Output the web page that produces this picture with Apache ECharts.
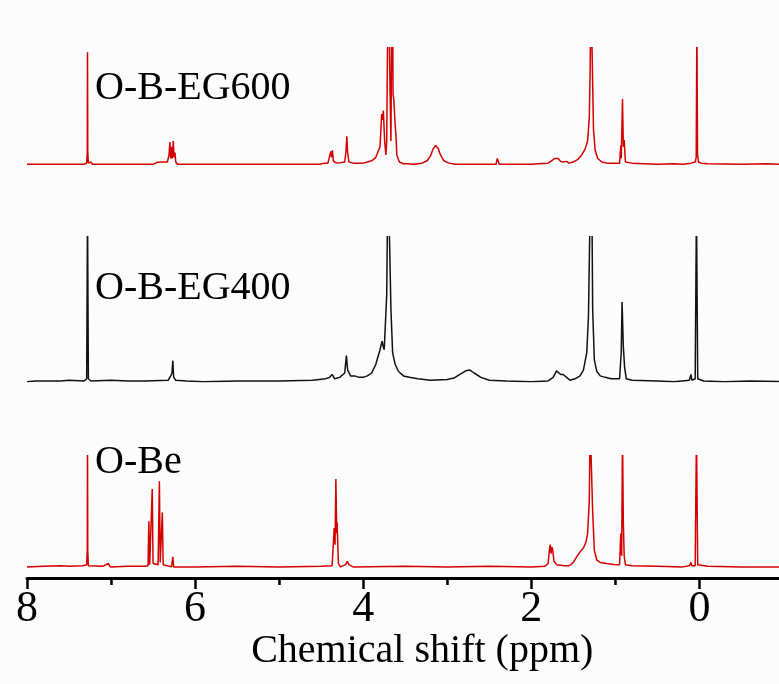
<!DOCTYPE html>
<html lang="en">
<head>
    <meta charset="UTF-8">
    <title>1H NMR</title>
    <script src="https://cdn.jsdelivr.net/npm/echarts@6/dist/echarts.min.js"></script>
    <style>
        body { margin: 0; background: #fcfcfc; }
    </style>
</head>
<body>
    <div id="main" style="width: 779px;height:684px;"></div>
    <script type="text/javascript">

        // sample names, top to bottom
        const sampleNames = ['O-B-EG600', 'O-B-EG400', 'O-Be'];

        // x-axis ticks (ppm)
        const ppmMin = -2;
        const ppmMax = 8;
        const ppmStep = 2;

        // traces: [ppm, relative intensity]
        const specEG600 = [
            [8.00, 0], [7.82, 0], [7.80, 0.012], [7.78, 0], [7.32, 0], [7.29, 0.01], [7.283, 0.1], [7.28, 0.96],
            [7.277, 0.1], [7.27, 0.01], [7.24, 0.02], [7.22, 0], [6.50, 0], [6.46, 0.015], [6.44, 0.01], [6.40, 0.02],
            [6.38, 0.01], [6.33, 0.02], [6.31, 0.08], [6.30, 0.19], [6.29, 0.05], [6.28, 0.15], [6.27, 0.05],
            [6.26, 0.2], [6.25, 0.06], [6.24, 0.10], [6.23, 0.02], [6.21, 0], [5.60, 0], [5.59, 0.01], [5.58, 0],
            [4.52, 0], [4.46, 0.01], [4.42, 0.01], [4.40, 0.02], [4.385, 0.11], [4.375, 0.06], [4.365, 0.12],
            [4.355, 0.03], [4.33, 0.015], [4.30, 0.01], [4.22, 0.02], [4.205, 0.11], [4.195, 0.24], [4.185, 0.10],
            [4.17, 0.02], [4.12, 0.01], [4.00, 0.01], [3.95, 0.02], [3.90, 0.03], [3.85, 0.06], [3.80, 0.15],
            [3.78, 0.43], [3.77, 0.38], [3.76, 0.46], [3.745, 0.2], [3.73, 0.08], [3.72, 0.2], [3.705, 1.5],
            [3.695, 1.4], [3.68, 0.6], [3.67, 0.2], [3.66, 1.3], [3.65, 1.4], [3.645, 0.6], [3.635, 0.55],
            [3.62, 0.34], [3.61, 0.25], [3.60, 0.08], [3.57, 0.02], [3.52, 0.005], [3.50, 0.015], [3.48, 0.005],
            [3.40, 0], [3.30, 0.01], [3.24, 0.03], [3.20, 0.07], [3.17, 0.13], [3.14, 0.16], [3.11, 0.14],
            [3.08, 0.08], [3.04, 0.03], [2.98, 0.01], [2.90, 0], [2.70, 0], [2.42, 0], [2.405, 0.05], [2.395, 0.05],
            [2.38, 0], [2.00, 0], [1.92, 0.005], [1.80, 0.01], [1.76, 0.03], [1.72, 0.05], [1.70, 0.065],
            [1.68, 0.05], [1.65, 0.025], [1.62, 0.02], [1.60, 0.03], [1.58, 0.025], [1.55, 0.01], [1.50, 0.02],
            [1.45, 0.04], [1.40, 0.08], [1.36, 0.13], [1.33, 0.2], [1.31, 0.4], [1.30, 0.8], [1.29, 1.5],
            [1.28, 1.5], [1.27, 0.7], [1.26, 0.3], [1.24, 0.12], [1.21, 0.05], [1.16, 0.02], [1.10, 0.01],
            [1.00, 0.01], [0.95, 0.01], [0.935, 0.16], [0.93, 0.05], [0.915, 0.56], [0.905, 0.15], [0.895, 0.21],
            [0.88, 0.02], [0.86, 0.005], [0.80, 0.01], [0.50, 0], [0.30, 0.005], [0.20, 0], [0.10, 0.01],
            [0.05, 0.02], [0.038, 0.06], [0.03, 1.2], [0.022, 0.08], [0.01, 0.02], [-0.02, 0.01], [-0.10, 0.005],
            [-0.50, 0], [-0.80, 0.005], [-1.00, 0]
        ];

        const specEG400 = [
            [8.00, 0], [7.90, 0.005], [7.60, 0.005], [7.50, 0.01], [7.32, 0.005], [7.29, 0.02], [7.28, 1.2],
            [7.27, 0.02], [7.24, 0.005], [7.00, 0.01], [6.80, 0.005], [6.60, 0.005], [6.32, 0.01], [6.29, 0.04],
            [6.275, 0.06], [6.265, 0.145], [6.255, 0.03], [6.23, 0.01], [6.10, 0.005], [5.90, 0], [5.50, 0.005],
            [5.00, 0.005], [4.60, 0.01], [4.45, 0.02], [4.40, 0.03], [4.37, 0.05], [4.34, 0.02], [4.28, 0.03],
            [4.22, 0.06], [4.20, 0.18], [4.185, 0.08], [4.15, 0.04], [4.10, 0.04], [4.05, 0.03], [4.00, 0.03],
            [3.95, 0.04], [3.90, 0.06], [3.85, 0.12], [3.80, 0.22], [3.775, 0.28], [3.765, 0.25], [3.75, 0.22],
            [3.72, 0.6], [3.705, 1.5], [3.685, 1.5], [3.67, 0.5], [3.65, 0.2], [3.62, 0.12], [3.58, 0.07],
            [3.52, 0.04], [3.45, 0.03], [3.35, 0.02], [3.20, 0.01], [3.00, 0.015], [2.92, 0.025], [2.85, 0.05],
            [2.78, 0.075], [2.73, 0.08], [2.68, 0.06], [2.60, 0.03], [2.50, 0.01], [2.30, 0.005], [2.00, 0],
            [1.80, 0.005], [1.74, 0.03], [1.70, 0.075], [1.68, 0.07], [1.65, 0.05], [1.62, 0.05], [1.58, 0.03],
            [1.54, 0.01], [1.48, 0.02], [1.42, 0.04], [1.38, 0.08], [1.34, 0.2], [1.32, 0.45], [1.30, 1.2],
            [1.28, 1.3], [1.27, 0.5], [1.25, 0.15], [1.22, 0.07], [1.18, 0.04], [1.12, 0.03], [1.05, 0.02],
            [0.95, 0.02], [0.93, 0.2], [0.92, 0.55], [0.905, 0.24], [0.89, 0.1], [0.87, 0.02], [0.80, 0.01],
            [0.50, 0.005], [0.30, 0], [0.12, 0.01], [0.10, 0.05], [0.09, 0.01], [0.05, 0.02], [0.035, 1.2],
            [0.02, 0.02], [-0.05, 0.005], [-0.30, 0], [-0.60, 0.005], [-1.00, 0]
        ];

        const specOBe = [
            [8.00, 0], [7.80, 0.005], [7.60, 0.01], [7.50, 0.005], [7.34, 0.01], [7.29, 0.02], [7.283, 0.15],
            [7.28, 1.1], [7.277, 0.15], [7.27, 0.01], [7.10, 0.005], [7.03, 0.03], [7.01, 0], [6.80, 0.005],
            [6.60, 0.005], [6.56, 0.01], [6.55, 0.41], [6.54, 0.02], [6.52, 0.03], [6.51, 0.70], [6.50, 0.03],
            [6.44, 0.02], [6.425, 0.77], [6.415, 0.04], [6.40, 0.03], [6.39, 0.49], [6.38, 0.02], [6.28, 0],
            [6.265, 0.09], [6.255, 0], [6.00, 0], [5.50, 0.005], [5.00, 0], [4.50, 0.005], [4.37, 0.01],
            [4.345, 0.35], [4.335, 0.2], [4.325, 0.79], [4.315, 0.3], [4.31, 0.40], [4.295, 0.03], [4.27, 0],
            [4.21, 0.02], [4.19, 0.05], [4.17, 0.02], [4.12, 0], [3.50, 0.005], [3.00, 0], [2.50, 0.005],
            [2.00, 0], [1.84, 0.005], [1.80, 0.03], [1.785, 0.15], [1.775, 0.2], [1.765, 0.12], [1.755, 0.18],
            [1.745, 0.15], [1.73, 0.05], [1.70, 0.02], [1.60, 0.01], [1.55, 0.01], [1.50, 0.04], [1.46, 0.09],
            [1.42, 0.135], [1.38, 0.17], [1.35, 0.22], [1.33, 0.3], [1.31, 0.6], [1.30, 1.3], [1.28, 1.3],
            [1.27, 0.5], [1.25, 0.15], [1.22, 0.06], [1.18, 0.04], [1.10, 0.03], [1.00, 0.02], [0.95, 0.02],
            [0.935, 0.3], [0.925, 0.1], [0.915, 1.2], [0.905, 0.4], [0.895, 0.1], [0.88, 0.02], [0.80, 0.01],
            [0.50, 0.005], [0.20, 0], [0.12, 0.01], [0.10, 0.04], [0.09, 0.01], [0.05, 0.01], [0.035, 1.2],
            [0.02, 0.02], [-0.10, 0.005], [-0.50, 0], [-1.00, 0]
        ];

        const spectra = [specEG600, specEG400, specOBe];
        const lineColors = ['#d40000', '#111111', '#d40000'];

        var chartDom = document.getElementById('main');
        var myChart = echarts.init(chartDom, null, { renderer: 'canvas' });
        var serif = '"Liberation Serif", "Times New Roman", serif';

        // one strip per sample; the bottom one carries the ppm axis
        var grids = [
            { left: 27, right: -88.5, top: 47.7, height: 116.6 },
            { left: 27, right: -88.5, top: 236.7, height: 145 },
            { left: 27, right: -88.5, top: 455.7, bottom: 106 }
        ];
        grids.forEach(function (g) { g.outerBoundsMode = 'none'; g.containLabel = false; });

        var xAxes = grids.map(function (g, i) {
            var last = i === grids.length - 1;
            return {
                type: 'value',
                gridIndex: i,
                min: ppmMin,
                max: ppmMax,
                interval: ppmStep,
                inverse: true,
                show: last,
                splitLine: { show: false },
                axisLine: { onZero: false, lineStyle: { color: '#000', width: 3 } },
                axisTick: { length: 11, lineStyle: { color: '#000', width: 2.5 } },
                minorTick: { show: true, splitNumber: 2, length: 7, lineStyle: { color: '#000', width: 2.5 } },
                axisLabel: { fontSize: 44, fontFamily: serif, color: '#000', margin: 9 },
                name: last ? 'Chemical shift (ppm)' : '',
                nameLocation: 'middle',
                nameGap: 48,
                nameTextStyle: { fontSize: 40, fontFamily: serif, color: '#000', padding: [0, 50, 0, 0] }
            };
        });

        var yAxes = grids.map(function (g, i) {
            return {
                type: 'value',
                gridIndex: i,
                min: i === 2 ? -0.1 : 0,
                max: 1,
                show: false
            };
        });

        var seriesList = spectra.map(function (d, i) {
            return {
                type: 'line',
                name: sampleNames[i],
                xAxisIndex: i,
                yAxisIndex: i,
                data: d,
                showSymbol: false,
                clip: true,
                lineStyle: { color: lineColors[i], width: 1.5 }
            };
        });

        var labelTops = [68, 268, 442];
        var titles = sampleNames.map(function (n, i) {
            return {
                text: n,
                left: 95,
                top: labelTops[i],
                padding: 0,
                textStyle: { fontSize: 40, fontFamily: serif, fontWeight: 'normal', color: '#000' }
            };
        });

        var option = {
            backgroundColor: '#fcfcfc',
            animation: false,
            title: titles,
            grid: grids,
            xAxis: xAxes,
            yAxis: yAxes,
            series: seriesList
        };

        option && myChart.setOption(option);

    </script>
</body>
</html>
